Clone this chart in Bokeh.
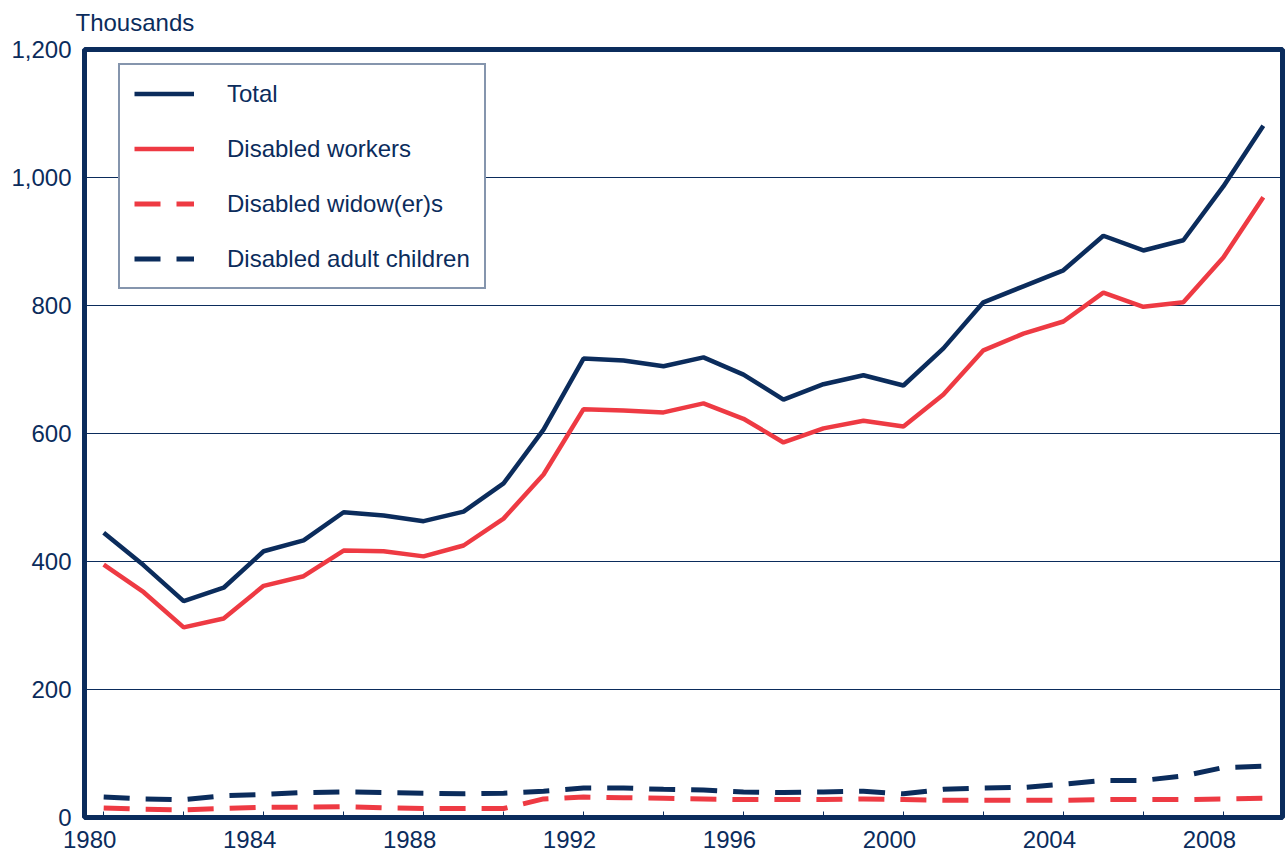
from bokeh.plotting import figure
from bokeh.models import (Range1d, FixedTicker, CustomJSTickFormatter, NumeralTickFormatter,
                          Legend, LegendItem, Title)
from bokeh.embed import file_html
from bokeh.resources import INLINE

years = list(range(1980, 2010))
total = [445, 394, 338, 359, 416, 433, 477, 472, 463, 478, 522, 606, 717, 714, 705,
         719, 692, 653, 677, 691, 675, 733, 805, 830, 855, 909, 886, 902, 986, 1081]
workers = [395, 352, 297, 311, 362, 377, 417, 416, 408, 425, 467, 536, 638, 636, 633,
           647, 623, 586, 608, 620, 611, 661, 730, 756, 775, 820, 798, 805, 875, 969]
widows = [15, 13, 12, 14, 16, 16, 17, 15, 14, 14, 14, 29, 32, 31, 30,
          29, 28, 28, 28, 29, 28, 27, 27, 27, 27, 28, 28, 28, 29, 30]
children = [32, 29, 28, 34, 36, 39, 40, 39, 38, 37, 38, 41, 46, 46, 44,
            43, 40, 39, 40, 41, 37, 44, 46, 47, 52, 58, 58, 65, 78, 80]
x_label_years = [1980, 1984, 1988, 1992, 1996, 2000, 2004, 2008]
x_tick_years = list(range(1980, 2010, 2))
y_ticks = [0, 200, 400, 600, 800, 1000, 1200]
series_names = ["Total", "Disabled workers", "Disabled widow(er)s", "Disabled adult children"]
unit_label = "Thousands"

NAVY = "#0b2c5c"
RED = "#ee3a43"
FONT = "Liberation Sans"
FS = "24px"

p = figure(width=1285, height=857, output_backend="svg", toolbar_location=None,
           x_range=Range1d(1979.52, 2009.48), y_range=Range1d(0, 1200),
           min_border_left=84, min_border_right=3, min_border_top=49, min_border_bottom=40)
p.background_fill_color = "white"
p.border_fill_color = "white"
p.outline_line_color = NAVY
p.outline_line_width = 5

# spacer panel between the frame and the unit label, then the "Thousands" label
p.add_layout(Title(text=" ", text_font_size="8px", standoff=1), "above")
p.add_layout(Title(text=unit_label, align="left", vertical_align="top", standoff=0, offset=-9,
                   text_font=FONT, text_font_size=FS, text_font_style="normal",
                   text_color=NAVY), "above")

# x axis
label_shift = 0.35
xa = p.xaxis[0]
xa.ticker = FixedTicker(ticks=[y - label_shift for y in x_label_years], minor_ticks=x_tick_years)
xa.formatter = CustomJSTickFormatter(code="return Math.round(tick).toString();")
xa.axis_line_color = None
xa.major_tick_line_color = None
xa.major_tick_in = 0
xa.major_tick_out = 0
xa.minor_tick_line_color = NAVY
xa.minor_tick_line_width = 1
xa.minor_tick_in = 6
xa.minor_tick_out = 0
xa.major_label_standoff = 13
xa.major_label_text_font = FONT
xa.major_label_text_font_size = FS
xa.major_label_text_color = NAVY

# y axis
ya = p.yaxis[0]
ya.ticker = FixedTicker(ticks=y_ticks)
ya.formatter = NumeralTickFormatter(format="0,0")
ya.axis_line_color = None
ya.major_tick_line_color = None
ya.minor_tick_line_color = None
ya.major_tick_in = 0
ya.major_tick_out = 0
ya.major_label_standoff = 13
ya.major_label_text_font = FONT
ya.major_label_text_font_size = FS
ya.major_label_text_color = NAVY

p.xgrid.grid_line_color = None
p.ygrid.ticker = FixedTicker(ticks=y_ticks)
p.ygrid.grid_line_color = NAVY
p.ygrid.grid_line_width = 1

dash = "26 16"
r_child = p.line(years, children, line_color=NAVY, line_width=5, line_dash=dash)
r_wid = p.line(years, widows, line_color=RED, line_width=5, line_dash=dash)
r_work = p.line(years, workers, line_color=RED, line_width=4.5)
r_tot = p.line(years, total, line_color=NAVY, line_width=4.5)

legend = Legend(items=[LegendItem(label=series_names[0], renderers=[r_tot]),
                       LegendItem(label=series_names[1], renderers=[r_work]),
                       LegendItem(label=series_names[2], renderers=[r_wid]),
                       LegendItem(label=series_names[3], renderers=[r_child])],
                location=(34, 528), margin=0, padding=14, spacing=26,
                glyph_width=60, glyph_height=29, label_height=29, label_standoff=33,
                label_text_font=FONT, label_text_font_size=FS, label_text_color=NAVY,
                border_line_color=NAVY, border_line_width=2,
                background_fill_color="white", background_fill_alpha=1.0)
p.add_layout(legend, "center")

open("out.html", "w").write(file_html(p, INLINE))
